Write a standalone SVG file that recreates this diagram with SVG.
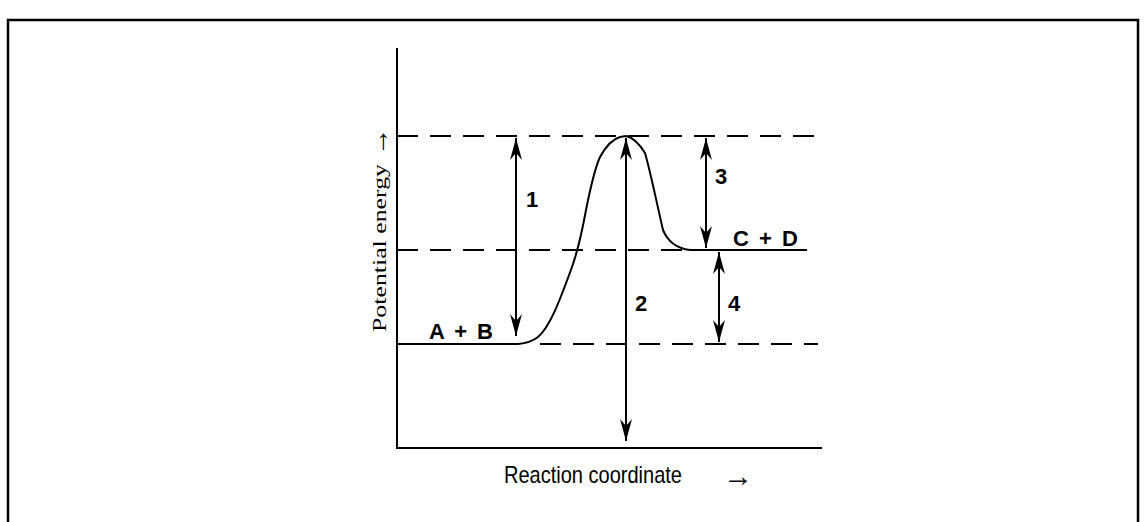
<svg xmlns="http://www.w3.org/2000/svg" width="1144" height="522" viewBox="0 0 1144 522">
<style>
.ln{stroke:#000;stroke-width:2;fill:none}
.ds{stroke:#000;stroke-width:2;fill:none;stroke-dasharray:21 12}
.lbl{font-family:"Liberation Sans",Arial,sans-serif;font-weight:bold;font-size:22px;fill:#000}
.arr2{stroke:#000;stroke-width:2;fill:none;marker-start:url(#ah);marker-end:url(#ah)}
</style>
<defs>
<marker id="ah" markerUnits="userSpaceOnUse" viewBox="-24 -8 26 16" refX="0" refY="0" markerWidth="26" markerHeight="16" orient="auto-start-reverse">
<path d="M0,0 L-22,-6 L-15,0 L-22,6 Z" fill="#000"/>
</marker>
</defs>
<rect width="1144" height="522" fill="#fff"/>
<path d="M8,522 V20 H1138 V522" stroke="#000" stroke-width="2.5" fill="none"/>
<g id="axes">
<path class="ln" d="M397,48 V448 H822"/>
<g transform="translate(386 332) rotate(-90)">
<text x="0" y="0" font-family="Liberation Serif,Times New Roman,serif" font-size="19" textLength="168" lengthAdjust="spacingAndGlyphs">Potential energy</text>
<text x="176" y="2" font-family="Liberation Serif,Times New Roman,serif" font-size="28">→</text>
</g>
<text x="504" y="483" font-family="Liberation Sans,Arial,sans-serif" font-size="24" textLength="178" lengthAdjust="spacingAndGlyphs">Reaction coordinate</text>
<text x="723" y="486" font-family="Liberation Serif,Times New Roman,serif" font-size="30">→</text>
</g>
<g id="levels">
<path class="ds" d="M397,136 H818"/>
<path class="ds" d="M397,250 H690"/>
<path class="ds" d="M540,344 H818"/>
<path class="ln" d="M397,344 H518"/>
<path class="ln" d="M690,250 H807"/>
</g>
<g id="curve">
<path class="ln" d="M518,344 C528,343 533,341 538,337 C550,327 560,300 572,267 C578,250 582,232 586,210 C590,190 594,170 600,157 C606,146 613,139 620,137 L626,136 C631,137 637,140 645,153 C650,170 655,195 663,230 C668,242 676,248 690,250"/>
</g>
<g id="connectors">
<path class="arr2" d="M516,336 V138"/>
<path class="arr2" d="M626,138 V441"/>
<path class="arr2" d="M706,138 V248"/>
<path class="arr2" d="M719,252 V342"/>
</g>
<g id="labels">
<text class="lbl" x="526" y="207">1</text>
<text class="lbl" x="635" y="311">2</text>
<text class="lbl" x="715" y="184">3</text>
<text class="lbl" x="728" y="311">4</text>
<text class="lbl" x="429" y="339" textLength="64" lengthAdjust="spacing">A + B</text>
<text class="lbl" x="733" y="246" textLength="65" lengthAdjust="spacing">C + D</text>
</g>
</svg>
